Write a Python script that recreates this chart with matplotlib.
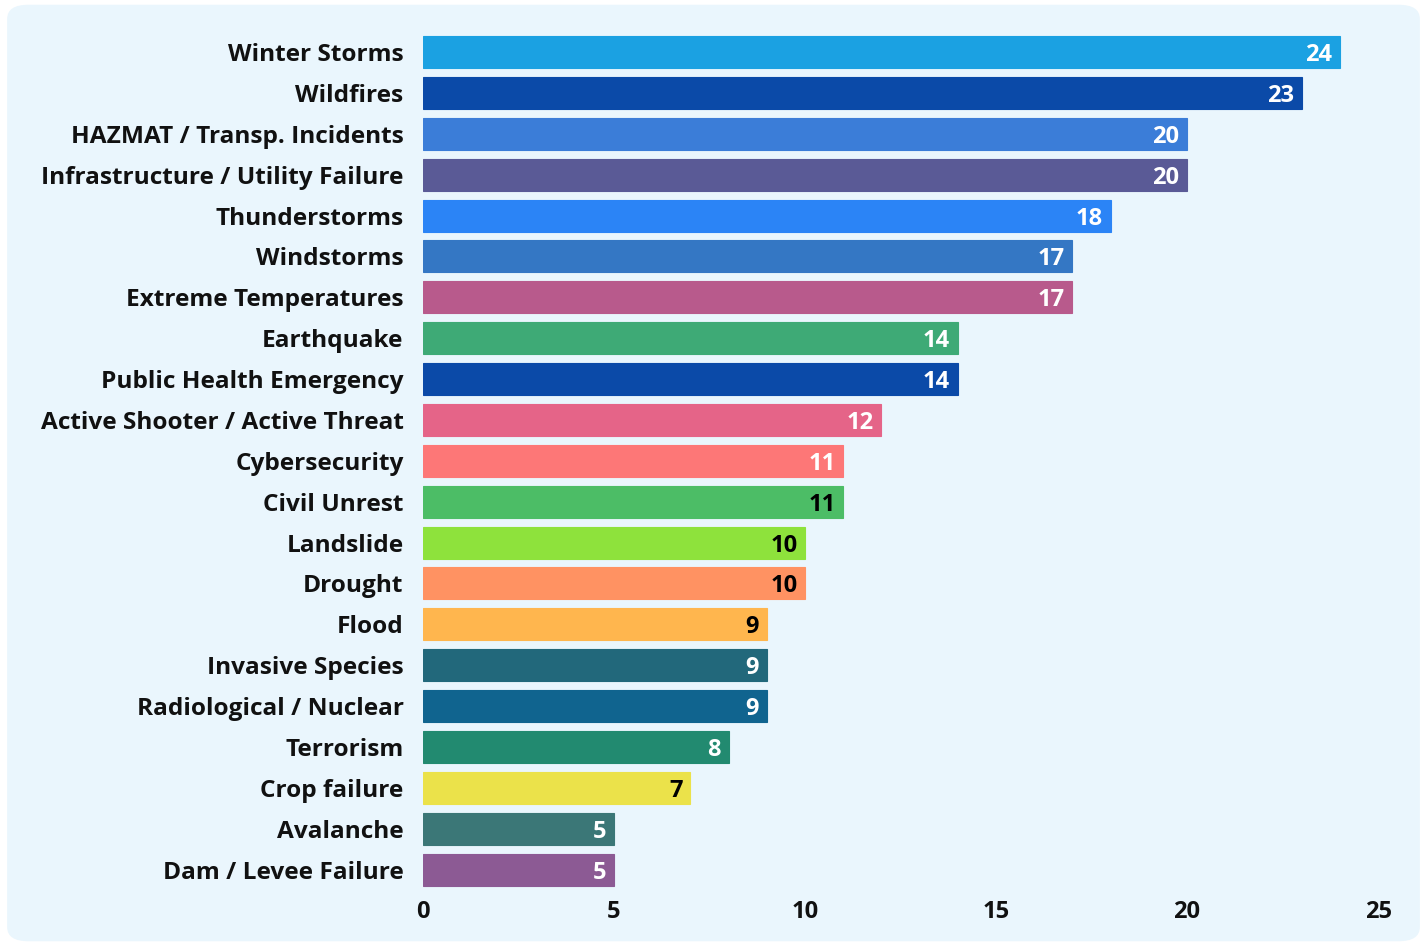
import matplotlib
matplotlib.use('Agg')
import matplotlib.pyplot as plt
from matplotlib.patches import FancyBboxPatch

plt.rcParams['font.family'] = ['Open Sans', 'DejaVu Sans']
plt.rcParams['font.weight'] = 'bold'

categories = ['Winter Storms', 'Wildfires', 'HAZMAT / Transp. Incidents',
              'Infrastructure / Utility Failure', 'Thunderstorms', 'Windstorms',
              'Extreme Temperatures', 'Earthquake', 'Public Health Emergency',
              'Active Shooter / Active Threat', 'Cybersecurity', 'Civil Unrest',
              'Landslide', 'Drought', 'Flood', 'Invasive Species',
              'Radiological / Nuclear', 'Terrorism', 'Crop failure', 'Avalanche',
              'Dam / Levee Failure']
counts = [24, 23, 20, 20, 18, 17, 17, 14, 14, 12, 11, 11, 10, 10, 9, 9, 9, 8, 7, 5, 5]
colors = ['#1ba1e2', '#0b4aa8', '#3b7dd8', '#5a5a96', '#2b84f6', '#3477c4',
          '#b85a8c', '#3eaa76', '#0b4aa8', '#e56488', '#fd7777', '#4cbd66',
          '#8ee23c', '#ff9262', '#ffb64e', '#22687b', '#10648f', '#228a70',
          '#ebe24a', '#3b7777', '#8c5a94']
label_colors = ['white'] * 11 + ['black'] * 4 + ['white'] * 3 + ['black'] + ['white'] * 2
x_ticks = [0, 5, 10, 15, 20, 25]

fig = plt.figure(figsize=(14.27, 9.46), dpi=100)
fig.patch.set_facecolor('white')
bg = FancyBboxPatch((0.005, 0.005), 0.99, 0.99, boxstyle='round,pad=0,rounding_size=0.015',
                    transform=fig.transFigure, facecolor='#eaf6fd', edgecolor='none', zorder=-10)
fig.patches.append(bg)

ax = fig.add_axes([0.2964, 0.0592, 0.6693, 0.9091])
ax.set_facecolor('none')
y = list(range(len(categories)))
ax.barh(y, counts, height=0.78, color=colors, edgecolor=colors, linewidth=0.8)
for i, (v, c) in enumerate(zip(counts, label_colors)):
    ax.text(v - 0.2, i, str(v), ha='right', va='center_baseline', color=c,
            fontsize=17, fontweight='bold')

ax.set_ylim(20.5, -0.54)
ax.set_xlim(0, 25)
ax.set_yticks(y)
ax.set_yticklabels(categories, fontsize=17.6, fontweight='bold', color='#111111')
for lbl in ax.get_yticklabels():
    lbl.set_verticalalignment('center_baseline')
ax.set_xticks(x_ticks)
ax.set_xticklabels([str(t) for t in x_ticks], fontsize=17, fontweight='bold', color='#111111')
ax.tick_params(axis='both', length=0)
ax.tick_params(axis='y', pad=14)
ax.tick_params(axis='x', pad=7)
for s in ax.spines.values():
    s.set_visible(False)

fig.savefig('out.png', dpi=100)
